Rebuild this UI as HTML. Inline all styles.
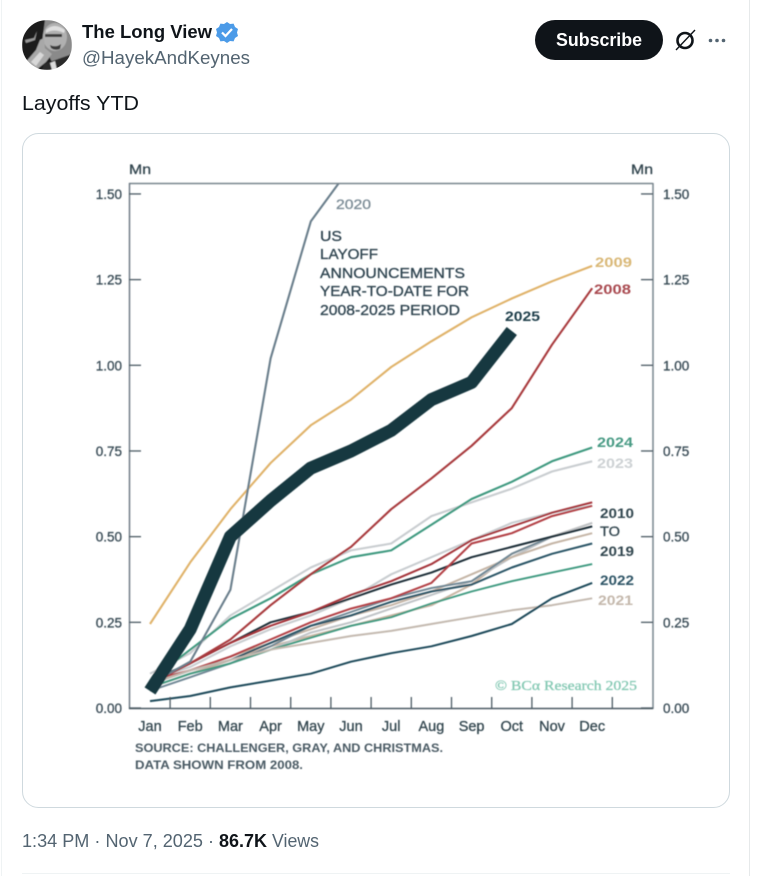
<!DOCTYPE html>
<html lang="en">
<head>
<meta charset="utf-8">
<title>Layoffs YTD</title>
<style>
html,body{margin:0;padding:0;background:#fff;width:757px;height:876px;overflow:hidden}
svg{display:block}
text{font-family:"Liberation Sans",sans-serif}
.tw{fill:#536471}
.ch{fill:#33464f}
.semi{stroke:currentColor;stroke-width:.3px}
</style>
</head>
<body>
<svg id="page" width="757" height="876" viewBox="0 0 757 876">
  <defs>
    <clipPath id="plot-clip"><rect x="129" y="183" width="524" height="525"/></clipPath>
    <clipPath id="avatar-clip"><circle cx="47" cy="45" r="25"/></clipPath>
    <filter id="soft" x="-5%" y="-5%" width="110%" height="110%"><feGaussianBlur stdDeviation="0.4"/></filter>
  </defs>

  <rect x="0" y="0" width="757" height="876" fill="#fff"/>
  <line x1="1.5" y1="0" x2="1.5" y2="876" stroke="#eff3f4"/>
  <line x1="749.5" y1="0" x2="749.5" y2="876" stroke="#e6e9ea"/>
  <line x1="22" y1="873.5" x2="730" y2="873.5" stroke="#eff3f4"/>

  <g clip-path="url(#avatar-clip)" filter="url(#soft)">
    <rect x="22" y="20" width="50" height="50" fill="#1a1a1a"/>
    <path d="M45 20 L72 20 L72 62 L52 62 L42 42Z" fill="#8a8a8a"/>
    <ellipse cx="55" cy="37" rx="12" ry="14" fill="#b0b0b0"/>
    <path d="M46 30 Q54 22 65 30 L64 33 Q54 28 46 33Z" fill="#dedede"/>
    <path d="M45 34h17v3H45z" fill="#3a3a3a"/>
    <path d="M50 45q6 3 11-1l-1 5q-5 2-9-1z" fill="#3a3a3a"/>
    <path d="M24 64 L36 50 L40 40 L44 38 L45 48 L52 54 L46 62 L36 70 L24 70Z" fill="#a8a8a8"/>
    <path d="M31 62 L40 52 L44 55 L36 66Z" fill="#d8d8d8"/>
    <path d="M44 64 L72 54 L72 70 L42 70Z" fill="#2c2c2c"/>
    <path d="M50 63 L55 61 L57 70 L52 70Z" fill="#dcdcdc"/>
    <path d="M25 40l9-2 3-7-2 9-9 3z" fill="#9a9a9a"/>
  </g>

  <text x="82" y="38" font-size="18" font-weight="700" fill="#0f1419" textLength="130" lengthAdjust="spacingAndGlyphs">The Long View</text>
  <g>
    <path d="M227 22l3 2 3.600-.4 1.400 3.400 3 2-1 3.500 1 3.500-3 2-1.400 3.400-3.600-.4-3 2-3-2-3.600.4-1.400-3.400-3-2 1-3.500-1-3.500 3-2 1.400-3.400 3.600.4z" fill="#4c9be8"/>
    <path d="M222 32.500l3.500 3.500 6.500-7" fill="none" stroke="#fff" stroke-width="2.200"/>
  </g>
  <text class="tw" x="82" y="64" font-size="18" textLength="168" lengthAdjust="spacingAndGlyphs">@HayekAndKeynes</text>

  <g>
    <rect x="535" y="20" width="128" height="40" rx="20" fill="#0f1419"/>
    <text x="556" y="46" font-size="18" font-weight="700" fill="#fff" textLength="86" lengthAdjust="spacingAndGlyphs">Subscribe</text>
  </g>
  <g fill="none" stroke="#0f1419">
    <circle cx="685" cy="40.500" r="7.500" stroke-width="2.600"/>
    <line x1="676" y1="50" x2="695" y2="30" stroke-width="1.400"/>
  </g>
  <g fill="#536471">
    <circle cx="710.500" cy="40.500" r="1.800"/>
    <circle cx="717" cy="40.500" r="1.800"/>
    <circle cx="723.500" cy="40.500" r="1.800"/>
  </g>

  <text x="22" y="110" font-size="20" fill="#0f1419" textLength="117" lengthAdjust="spacingAndGlyphs">Layoffs YTD</text>

  <rect x="22.500" y="133.500" width="707" height="674" rx="16" fill="#fff" stroke="#cfd9de"/>

  <g id="chart" filter="url(#soft)">
    <g id="marks" clip-path="url(#plot-clip)"></g>
    <g fill="none">
      <line x1="129" y1="183.500" x2="653" y2="183.500" stroke="#78858d" stroke-width="1.500"/>
      <line x1="129.500" y1="183" x2="129.500" y2="709" stroke="#6f7c85" stroke-width="1.500"/>
      <line x1="653" y1="183" x2="653" y2="709" stroke="#78858d" stroke-width="1.500"/>
      <line x1="129" y1="708.500" x2="653" y2="708.500" stroke="#4b5a63" stroke-width="1.500"/>
    </g>
    <g id="axes"></g>

    <text class="ch semi" color="#33464f" x="129" y="174" font-size="14" textLength="22" lengthAdjust="spacingAndGlyphs">Mn</text>
    <text class="ch semi" color="#33464f" x="631" y="174" font-size="14" textLength="22" lengthAdjust="spacingAndGlyphs">Mn</text>

    <g class="semi" color="#2f4450" font-size="14.500" fill="#2f4450">
      <text x="320" y="241" textLength="22" lengthAdjust="spacingAndGlyphs">US</text>
      <text x="320" y="259" textLength="58" lengthAdjust="spacingAndGlyphs">LAYOFF</text>
      <text x="320" y="278" textLength="145" lengthAdjust="spacingAndGlyphs">ANNOUNCEMENTS</text>
      <text x="320" y="296" textLength="149" lengthAdjust="spacingAndGlyphs">YEAR-TO-DATE FOR</text>
      <text x="320" y="315" textLength="140" lengthAdjust="spacingAndGlyphs">2008-2025 PERIOD</text>
    </g>

    <text class="semi" color="#7c8c96" x="336" y="209" font-size="13.500" fill="#7c8c96" textLength="35" lengthAdjust="spacingAndGlyphs">2020</text>
    <text x="595" y="267" font-size="14" font-weight="700" fill="#d9b877" textLength="37" lengthAdjust="spacingAndGlyphs">2009</text>
    <text x="594" y="294" font-size="14" font-weight="700" fill="#a94a50" textLength="37" lengthAdjust="spacingAndGlyphs">2008</text>
    <text x="505" y="321" font-size="14" font-weight="700" fill="#1f3d4a" textLength="35" lengthAdjust="spacingAndGlyphs">2025</text>
    <text x="597" y="447" font-size="14" font-weight="700" fill="#469a83" textLength="36" lengthAdjust="spacingAndGlyphs">2024</text>
    <text x="597" y="468" font-size="14" font-weight="700" fill="#cdd1d4" textLength="36" lengthAdjust="spacingAndGlyphs">2023</text>
    <g font-size="14" fill="#33464f">
      <text x="600" y="518" font-weight="700" textLength="34" lengthAdjust="spacingAndGlyphs">2010</text>
      <text class="semi" color="#33464f" x="600" y="536" textLength="20" lengthAdjust="spacingAndGlyphs">TO</text>
      <text x="600" y="556" font-weight="700" textLength="34" lengthAdjust="spacingAndGlyphs">2019</text>
    </g>
    <text x="600" y="585" font-size="14" font-weight="700" fill="#2f5566" textLength="34" lengthAdjust="spacingAndGlyphs">2022</text>
    <text x="598" y="605" font-size="14" font-weight="700" fill="#c4b8ac" textLength="35" lengthAdjust="spacingAndGlyphs">2021</text>

    <text class="semi" color="#85c9b4" x="495" y="690" font-size="14" fill="#85c9b4" textLength="142" lengthAdjust="spacingAndGlyphs" style="font-family:'Liberation Serif',serif">© BCα Research 2025</text>

    <text x="135" y="752" font-size="12" font-weight="700" fill="#4a5a64" textLength="308" lengthAdjust="spacingAndGlyphs">SOURCE: CHALLENGER, GRAY, AND CHRISTMAS.</text>
    <text x="135" y="769" font-size="12" font-weight="700" fill="#4a5a64" textLength="168" lengthAdjust="spacingAndGlyphs">DATA SHOWN FROM 2008.</text>
  </g>

  <g font-size="18">
    <text class="tw" x="22" y="847" textLength="181" lengthAdjust="spacingAndGlyphs">1:34 PM · Nov 7, 2025</text>
    <text class="tw" x="208" y="847">·</text>
    <text x="219" y="847" font-weight="700" fill="#0f1419" textLength="48" lengthAdjust="spacingAndGlyphs">86.7K</text>
    <text class="tw" x="272" y="847" textLength="47" lengthAdjust="spacingAndGlyphs">Views</text>
  </g>
</svg>

<script>
const months = ['Jan','Feb','Mar','Apr','May','Jun','Jul','Aug','Sep','Oct','Nov','Dec'];
const yTicks = [0, 0.25, 0.5, 0.75, 1, 1.25, 1.5];

const s2011 = [0.06,0.10,0.14,0.18,0.21,0.24,0.27,0.30,0.36,0.45,0.50,0.54];
const s2012 = [0.06,0.10,0.13,0.17,0.22,0.25,0.29,0.33,0.37,0.44,0.50,0.54];
const s2013 = [0.07,0.11,0.15,0.19,0.23,0.27,0.30,0.34,0.39,0.44,0.48,0.51];
const s2014 = [0.05,0.09,0.13,0.18,0.24,0.28,0.32,0.35,0.37,0.45,0.50,0.53];
const s2015 = [0.08,0.12,0.18,0.23,0.27,0.32,0.39,0.44,0.49,0.54,0.57,0.59];
const s2016 = [0.06,0.10,0.13,0.17,0.205,0.24,0.265,0.305,0.34,0.37,0.395,0.42];
const s2017 = [0.07,0.11,0.14,0.19,0.24,0.27,0.31,0.34,0.36,0.41,0.45,0.48];
const s2018 = [0.08,0.13,0.19,0.25,0.28,0.32,0.36,0.395,0.44,0.47,0.50,0.53];
const s2019 = [0.08,0.11,0.15,0.20,0.25,0.29,0.32,0.365,0.48,0.51,0.56,0.59];
const s2010 = [0.07,0.13,0.19,0.24,0.28,0.33,0.37,0.42,0.49,0.53,0.57,0.60];
const s2021 = [0.07,0.11,0.14,0.17,0.19,0.21,0.225,0.245,0.265,0.285,0.30,0.32];
const s2022 = [0.02,0.035,0.06,0.08,0.10,0.135,0.16,0.18,0.21,0.245,0.32,0.365];
const s2023 = [0.10,0.16,0.27,0.34,0.41,0.46,0.48,0.56,0.60,0.64,0.69,0.72];
const s2024 = [0.08,0.17,0.26,0.32,0.39,0.44,0.46,0.535,0.61,0.66,0.72,0.76];
const s2009 = [0.245,0.425,0.58,0.715,0.825,0.90,0.995,1.07,1.14,1.195,1.245,1.29];
const s2008 = [0.07,0.13,0.20,0.30,0.39,0.47,0.58,0.67,0.765,0.875,1.06,1.225];
const s2020 = [0.07,0.135,0.345,1.02,1.42,1.58];
const s2025 = [0.05,0.23,0.50,0.605,0.70,0.75,0.81,0.90,0.95,1.10];

const seriesOrder = [
  ['series-2011', s2011, '#c9b6a4', 2],
  ['series-2012', s2012, '#bfc3c6', 2],
  ['series-2013', s2013, '#c5b5a6', 2],
  ['series-2014', s2014, '#6f8794', 1.9],
  ['series-2015', s2015, '#c9cdd0', 2.1],
  ['series-2016', s2016, '#3f9a80', 1.9],
  ['series-2017', s2017, '#2b5566', 2],
  ['series-2018', s2018, '#1d2f38', 2],
  ['series-2019', s2019, '#b23f45', 2],
  ['series-2010', s2010, '#a5343a', 2],
  ['series-2021', s2021, '#c4bab0', 2],
  ['series-2022', s2022, '#1f4a5a', 2],
  ['series-2023', s2023, '#c9cdd0', 2.1],
  ['series-2024', s2024, '#3f9a80', 2.1],
  ['series-2009', s2009, '#e0b36a', 2.1],
  ['series-2008', s2008, '#a83a3e', 2.1],
  ['series-2020', s2020, '#6b7f8c', 2.1],
  ['series-2025', s2025, '#17383f', 13]
];

const SVG_NS = 'http://www.w3.org/2000/svg';
function xs(i) { return 150 + i * 40.2; }
function ys(v) { return 708 - v * 342.7; }

const marks = document.getElementById('marks');
const axes = document.getElementById('axes');

seriesOrder.forEach(function (entry) {
  const el = document.createElementNS(SVG_NS, 'polyline');
  
  
  el.setAttribute('points', entry[1].map(function (v, i) { return xs(i).toFixed(1) + ',' + ys(v).toFixed(1); }).join(' '));
  el.setAttribute('fill', 'none');
  el.setAttribute('stroke', entry[2]);
  el.setAttribute('stroke-width', entry[3]);
  el.setAttribute('stroke-linejoin', 'round');
  marks.appendChild(el);
});

yTicks.forEach(function (v) {
  const y = ys(v);
  [[129, 141], [641, 653]].forEach(function (span) {
    const tick = document.createElementNS(SVG_NS, 'line');
    
    
    tick.setAttribute('x1', span[0]);
    tick.setAttribute('x2', span[1]);
    tick.setAttribute('y1', y);
    tick.setAttribute('y2', y);
    tick.setAttribute('stroke', '#4b5a63');
    tick.setAttribute('stroke-width', '1.3');
    axes.appendChild(tick);
  });
  [[122, 'end'], [663, 'start']].forEach(function (pos) {
    const label = document.createElementNS(SVG_NS, 'text');
    
    
    label.setAttribute('x', pos[0]);
    label.setAttribute('y', y + 5);
    label.setAttribute('text-anchor', pos[1]);
    label.setAttribute('font-size', '13.5');
    label.setAttribute('class', 'semi');
    label.setAttribute('color', '#3a4c56');
    label.setAttribute('fill', '#3a4c56');
    label.textContent = v.toFixed(2);
    axes.appendChild(label);
  });
});

months.forEach(function (m, i) {
  const tick = document.createElementNS(SVG_NS, 'line');
  
  
  tick.setAttribute('x1', xs(i + 0.5));
  tick.setAttribute('x2', xs(i + 0.5));
  tick.setAttribute('y1', 697);
  tick.setAttribute('y2', 708);
  tick.setAttribute('stroke', '#4b5a63');
  tick.setAttribute('stroke-width', '1.3');
  axes.appendChild(tick);

  const label = document.createElementNS(SVG_NS, 'text');
  
  
  label.setAttribute('x', xs(i));
  label.setAttribute('y', 731);
  label.setAttribute('text-anchor', 'middle');
  label.setAttribute('font-size', '14.5');
  label.setAttribute('class', 'semi');
  label.setAttribute('color', '#33464f');
  label.setAttribute('fill', '#33464f');
  label.textContent = m;
  axes.appendChild(label);
});
</script>
</body>
</html>
